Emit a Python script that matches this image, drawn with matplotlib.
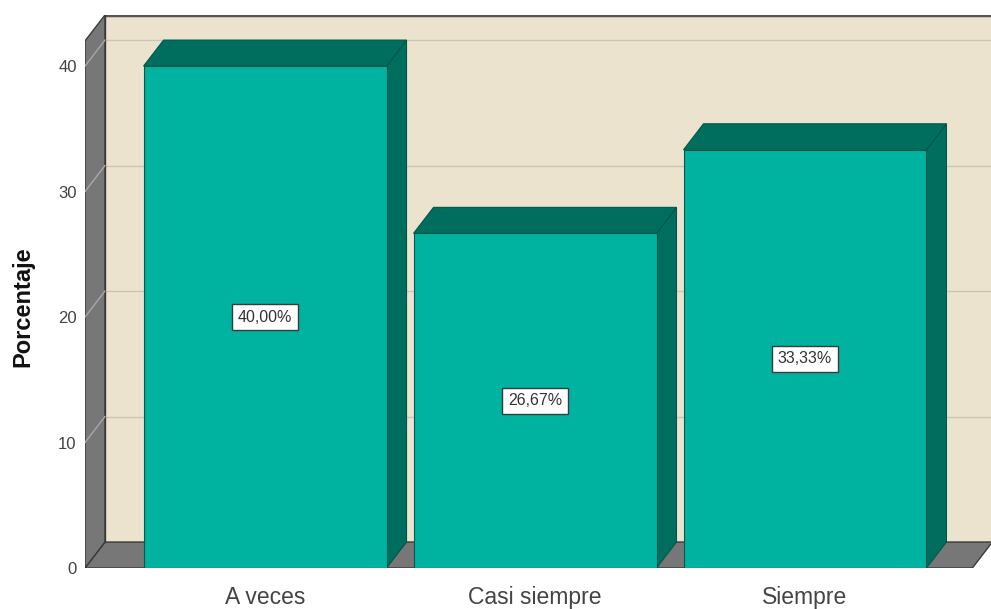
import matplotlib
matplotlib.use('Agg')
import matplotlib.pyplot as plt
from matplotlib.patches import Polygon

categories = ['A veces', 'Casi siempre', 'Siempre']
porcentajes = [40.00, 26.67, 33.33]
etiquetas = ['40,00%', '26,67%', '33,33%']
yticks = [0, 10, 20, 30, 40]

plt.rcParams['font.family'] = ['Liberation Sans', 'DejaVu Sans']

# 3d look: depth offsets in data units
dx, dy = 0.074, 2.07
x0, xr, ytop = -0.667, 2.62, 42.0
width = 0.9

front_col = '#00B3A0'
side_col = '#006E5F'
edge_col = '#00574C'
wall_col = '#777777'
back_col = '#EBE3CE'

fig = plt.figure(figsize=(9.91, 6.09), dpi=100)
ax = fig.add_axes([85 / 991, (609 - 568) / 609, (991 - 85) / 991, (568 - 15) / 609])
ax.set_xlim(x0, 2.689)
ax.set_ylim(0, 44.07)
ax.patch.set_alpha(0)
for s in ax.spines.values():
    s.set_visible(False)

# back wall, floor, left wall
ax.add_patch(Polygon([(x0 + dx, dy), (xr + dx, dy), (xr + dx, ytop + dy), (x0 + dx, ytop + dy)],
                     closed=True, fc=back_col, ec='none', zorder=1))
ax.plot([x0 + dx, xr + dx], [ytop + dy, ytop + dy], color='#555555', lw=2.5, zorder=2, solid_capstyle='butt')
ax.add_patch(Polygon([(x0, 0), (xr, 0), (xr + dx, dy), (x0 + dx, dy)],
                     closed=True, fc=wall_col, ec='#3a3a3a', lw=1, zorder=2))
ax.add_patch(Polygon([(x0, 0), (x0, ytop), (x0 + dx, ytop + dy), (x0 + dx, dy)],
                     closed=True, fc=wall_col, ec='#3a3a3a', lw=1, zorder=2))
ax.plot([x0 + dx, x0 + dx], [dy, ytop + dy], color='#3a3a3a', lw=1, zorder=3)

# gridlines
for v in yticks[1:]:
    ax.plot([x0 + dx, xr + dx], [v + dy, v + dy], color='#CBC5B5', lw=1, zorder=2)
    ax.plot([x0, x0 + dx], [v, v + dy], color='#A8A8A8', lw=1, zorder=3)

# bars
xs = list(range(len(categories)))
for x, h in zip(xs, porcentajes):
    l, r = x - width / 2, x + width / 2
    ax.add_patch(Polygon([(r, 0), (r + dx, dy), (r + dx, h + dy), (r, h)],
                         closed=True, fc=side_col, ec=edge_col, lw=0.8, zorder=4))
    ax.add_patch(Polygon([(l, h), (l + dx, h + dy), (r + dx, h + dy), (r, h)],
                         closed=True, fc=side_col, ec=edge_col, lw=0.8, zorder=4))
ax.bar(xs, porcentajes, width=width, color=front_col, edgecolor=edge_col, lw=0.8, zorder=5)

for x, h, t in zip(xs, porcentajes, etiquetas):
    ax.text(x, h / 2, t, ha='center', va='center', fontsize=11.5, color='#333333', zorder=6,
            bbox=dict(boxstyle='square,pad=0.35', fc='white', ec='#3a3a3a', lw=1))

ax.set_yticks(yticks)
ax.set_yticklabels([str(v) for v in yticks], fontsize=12, color='#444444')
ax.set_xticks(xs)
ax.set_xticklabels(categories, fontsize=16.5, color='#444444')
ax.tick_params(axis='both', length=0)
ax.tick_params(axis='y', pad=6)
ax.tick_params(axis='x', pad=13)
ax.set_ylabel('Porcentaje', fontsize=17, fontweight='bold', color='#111111')
ax.yaxis.set_label_coords(-0.056, 0.472)

fig.savefig('out.png', dpi=100)
